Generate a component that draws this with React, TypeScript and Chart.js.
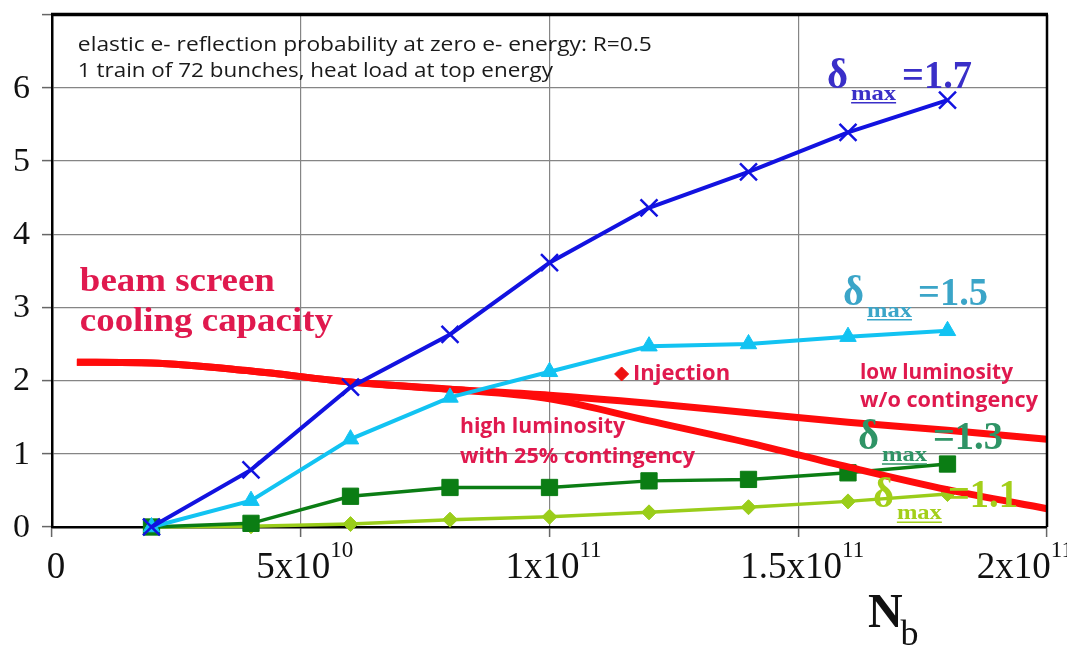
import React, { useEffect, useRef } from 'react';
import { Chart, registerables } from 'chart.js';

Chart.register(...registerables);

// ---- data ----
const bunchIntensity = [2e10, 4e10, 6e10, 8e10, 1e11, 1.2e11, 1.4e11, 1.6e11, 1.8e11];
const heatLoadDelta17 = [0, 0.78, 1.91, 2.63, 3.61, 4.36, 4.85, 5.39, 5.83];
const heatLoadDelta15 = [0, 0.36, 1.2, 1.77, 2.12, 2.47, 2.5, 2.6, 2.68];
const heatLoadDelta13 = [0, 0.05, 0.42, 0.54, 0.54, 0.63, 0.65, 0.74, 0.86];
const heatLoadDelta11 = [0, 0.01, 0.04, 0.1, 0.14, 0.2, 0.27, 0.35, 0.45];

const coolingIntensity = [5e9, 2e10, 4e10, 6e10, 8e10, 1e11, 1.2e11, 1.4e11, 1.6e11, 1.8e11, 2e11];
const coolingLowLumi = [2.25, 2.24, 2.13, 1.98, 1.88, 1.8, 1.69, 1.56, 1.43, 1.32, 1.2];
const coolingHighLumi = [2.25, 2.24, 2.13, 1.98, 1.88, 1.75, 1.45, 1.15, 0.82, 0.51, 0.25];

const injectionIntensity = [1.145e11];
const injectionHeatLoad = [2.09];

const xTickValues = [0, 5e10, 1e11, 1.5e11, 2e11];
const xTickMain = ['0', '5x10', '1x10', '1.5x10', '2x10'];
const xTickSup = ['', '10', '11', '11', '11'];
const yTickValues = [0, 1, 2, 3, 4, 5, 6];
const yTickLabels = ['0', '1', '2', '3', '4', '5', '6'];

const deltaValues = ['=1.7', '=1.5', '=1.3', '=1.1'];

// ---- annotation layout (text only) ----
const CRIMSON = '#e0194e';
const notes = [
  { text: 'elastic e- reflection probability at zero e- energy: R=0.5', x: 5.2e9, y: 6.5, w: 574, font: '20px "Open Sans"', color: '#1a1a1a' },
  { text: '1 train of 72 bunches, heat load at top energy', x: 5.2e9, y: 6.15, w: 475, font: '20px "Open Sans"', color: '#1a1a1a' },
  { text: 'beam screen', x: 5.6e9, y: 3.22, w: 195, font: 'bold 34px "Liberation Serif"', color: CRIMSON },
  { text: 'cooling capacity', x: 5.6e9, y: 2.68, w: 253, font: 'bold 34px "Liberation Serif"', color: CRIMSON },
  { text: 'Injection', x: 116.8e9, y: 2.01, w: 97, font: 'bold 22px "Open Sans"', color: CRIMSON },
  { text: 'high luminosity', x: 82e9, y: 1.28, w: 165, font: 'bold 22px "Open Sans"', color: CRIMSON },
  { text: 'with 25% contingency', x: 82e9, y: 0.877, w: 235, font: 'bold 22px "Open Sans"', color: CRIMSON },
  { text: 'low luminosity', x: 162.4e9, y: 2.02, w: 153, font: 'bold 22px "Open Sans"', color: CRIMSON },
  { text: 'w/o contingency', x: 162.4e9, y: 1.645, w: 178, font: 'bold 22px "Open Sans"', color: CRIMSON },
];
const deltaAnchors = [
  { x: 155.8e9, y: 6.0, color: '#3a2fc8' },
  { x: 159.0e9, y: 3.035, color: '#3ba5c8' },
  { x: 162.0e9, y: 1.066, color: '#2f9466' },
  { x: 165.0e9, y: 0.27, color: '#a3cf1a' },
];

function fitText(ctx: CanvasRenderingContext2D, text: string, x: number, y: number, width: number, font: string, color: string) {
  ctx.save();
  ctx.font = font;
  ctx.fillStyle = color;
  ctx.textAlign = 'left';
  ctx.textBaseline = 'alphabetic';
  const m = ctx.measureText(text).width;
  ctx.translate(x, y);
  ctx.scale(width / m, 1);
  ctx.fillText(text, 0, 0);
  ctx.restore();
}

const overlayPlugin = {
  id: 'overlay',
  afterDatasetsDraw(chart: any) {
    const ctx: CanvasRenderingContext2D = chart.ctx;
    const xs = chart.scales.x;
    const ys = chart.scales.y;
    const { left, right, top, bottom } = chart.chartArea;

    // frame
    ctx.save();
    ctx.strokeStyle = '#000';
    ctx.lineWidth = 3.5;
    ctx.beginPath();
    ctx.moveTo(left - 1, top);
    ctx.lineTo(right + 1, top);
    ctx.stroke();
    ctx.lineWidth = 2.5;
    ctx.beginPath();
    ctx.moveTo(right, top);
    ctx.lineTo(right, bottom);
    ctx.stroke();
    ctx.restore();

    // notes
    notes.forEach((n) => fitText(ctx, n.text, xs.getPixelForValue(n.x), ys.getPixelForValue(n.y), n.w, n.font, n.color));

    // delta labels
    deltaAnchors.forEach((d, i) => {
      const px = xs.getPixelForValue(d.x);
      const py = ys.getPixelForValue(d.y);
      fitText(ctx, '\u03b4', px, py, 21, 'bold 42px "Liberation Serif"', d.color);
      fitText(ctx, 'max', px + 24, py + 12, 45, 'bold 22px "Liberation Serif"', d.color);
      ctx.save();
      ctx.strokeStyle = d.color;
      ctx.lineWidth = 1.5;
      ctx.beginPath();
      ctx.moveTo(px + 24, py + 15);
      ctx.lineTo(px + 69, py + 15);
      ctx.stroke();
      ctx.restore();
      fitText(ctx, deltaValues[i], px + 75, py, 70, 'bold 40px "Liberation Serif"', d.color);
    });

    // y tick labels
    ctx.save();
    ctx.fillStyle = '#111';
    ctx.font = '34px "Liberation Serif"';
    ctx.textAlign = 'right';
    ctx.textBaseline = 'middle';
    yTickValues.forEach((v, i) => {
      ctx.fillText(yTickLabels[i], left - 22, ys.getPixelForValue(v) + 1);
    });
    ctx.restore();

    // x tick labels with superscripts
    ctx.save();
    ctx.fillStyle = '#111';
    ctx.textBaseline = 'alphabetic';
    ctx.textAlign = 'left';
    const mainFont = '37px "Liberation Serif"';
    const supFont = '23px "Liberation Serif"';
    xTickValues.forEach((v, i) => {
      ctx.font = mainFont;
      const mw = ctx.measureText(xTickMain[i]).width;
      ctx.font = supFont;
      const sw = xTickSup[i] ? ctx.measureText(xTickSup[i]).width : 0;
      const total = mw + sw;
      let x0 = xs.getPixelForValue(v) - total / 2 + (i === 0 ? 4 : 4);
      const maxRight = chart.width + 6;
      if (x0 + total > maxRight) x0 = maxRight - total;
      ctx.font = mainFont;
      ctx.fillText(xTickMain[i], x0, bottom + 51);
      if (xTickSup[i]) {
        ctx.font = supFont;
        ctx.fillText(xTickSup[i], x0 + mw, bottom + 30);
      }
    });
    ctx.restore();

    // axis title N_b
    ctx.save();
    ctx.fillStyle = '#111';
    ctx.textAlign = 'left';
    ctx.textBaseline = 'alphabetic';
    const nx = xs.getPixelForValue(164e9);
    ctx.font = 'bold 48px "Liberation Serif"';
    ctx.fillText('N', nx, bottom + 100);
    const nw = ctx.measureText('N').width;
    ctx.font = '36px "Liberation Serif"';
    ctx.fillText('b', nx + nw - 2, bottom + 118);
    ctx.restore();
  },
};

function toPoints(xv: number[], yv: number[]) {
  return xv.map((x, i) => ({ x, y: yv[i] }));
}

export default function App() {
  const canvasRef = useRef<HTMLCanvasElement | null>(null);

  useEffect(() => {
    document.body.style.margin = '0';
    const canvas = canvasRef.current;
    if (!canvas) return;
    const gridColor = '#858585';
    const chart = new Chart(canvas, {
      type: 'line',
      data: {
        datasets: [
          {
            label: 'delta 1.7',
            data: toPoints(bunchIntensity, heatLoadDelta17),
            borderColor: '#1212e0',
            borderWidth: 4,
            pointStyle: 'crossRot',
            pointRadius: 12,
            pointBorderWidth: 2.5,
            pointBorderColor: '#1212e0',
            pointBackgroundColor: '#1212e0',
            tension: 0,
            clip: false,
            order: 1,
          },
          {
            label: 'delta 1.5',
            data: toPoints(bunchIntensity, heatLoadDelta15),
            borderColor: '#12c3f2',
            borderWidth: 4,
            pointStyle: 'triangle',
            pointRadius: 9.5,
            pointBorderWidth: 1,
            pointBorderColor: '#12c3f2',
            pointBackgroundColor: '#12c3f2',
            tension: 0,
            clip: false,
            order: 2,
          },
          {
            label: 'injection',
            data: toPoints(injectionIntensity, injectionHeatLoad),
            showLine: false,
            pointStyle: 'rectRot',
            pointRadius: 7,
            pointBorderWidth: 1,
            pointBorderColor: '#ee1111',
            pointBackgroundColor: '#ee1111',
            clip: false,
            order: 3,
          },
          {
            label: 'cooling low luminosity',
            data: toPoints(coolingIntensity, coolingLowLumi),
            borderColor: '#ff0b0b',
            borderWidth: 7,
            pointRadius: 0,
            cubicInterpolationMode: 'monotone',
            borderCapStyle: 'butt',
            clip: false,
            order: 4,
          },
          {
            label: 'cooling high luminosity',
            data: toPoints(coolingIntensity, coolingHighLumi),
            borderColor: '#ff0b0b',
            borderWidth: 7,
            pointRadius: 0,
            cubicInterpolationMode: 'monotone',
            borderCapStyle: 'butt',
            clip: false,
            order: 5,
          },
          {
            label: 'delta 1.3',
            data: toPoints(bunchIntensity, heatLoadDelta13),
            borderColor: '#0b7d14',
            borderWidth: 3.5,
            pointStyle: 'rect',
            pointRadius: 11.5,
            pointBorderWidth: 1,
            pointBorderColor: '#0b7d14',
            pointBackgroundColor: '#0b7d14',
            tension: 0,
            clip: false,
            order: 6,
          },
          {
            label: 'delta 1.1',
            data: toPoints(bunchIntensity, heatLoadDelta11),
            borderColor: '#9acd1a',
            borderWidth: 3.5,
            pointStyle: 'rectRot',
            pointRadius: 7.5,
            pointBorderWidth: 1,
            pointBorderColor: '#9acd1a',
            pointBackgroundColor: '#9acd1a',
            tension: 0,
            clip: false,
            order: 7,
          },
        ],
      },
      options: {
        animation: false,
        responsive: false,
        maintainAspectRatio: false,
        devicePixelRatio: 1,
        events: [],
        layout: { padding: { top: 8, right: 20, left: 0, bottom: 0 } },
        plugins: {
          legend: { display: false },
          tooltip: { enabled: false },
          title: { display: false },
        },
        scales: {
          x: {
            type: 'linear',
            min: 0,
            max: 2e11,
            afterBuildTicks: (s: any) => {
              s.ticks = xTickValues.map((v) => ({ value: v }));
            },
            ticks: { display: false },
            grid: { color: gridColor, lineWidth: 1.2, tickLength: 10, drawTicks: true, tickColor: '#666', tickWidth: 1.5 },
            border: { display: true, color: '#000', width: 2.5 },
            afterFit: (s: any) => {
              s.height = 124;
            },
          },
          y: {
            type: 'linear',
            min: 0,
            max: 7,
            afterBuildTicks: (s: any) => {
              s.ticks = [0, 1, 2, 3, 4, 5, 6, 7].map((v) => ({ value: v }));
            },
            ticks: { display: false },
            grid: { color: gridColor, lineWidth: 1.2, tickLength: 10, drawTicks: true, tickColor: '#666', tickWidth: 1.5 },
            border: { display: true, color: '#000', width: 2.5 },
            afterFit: (s: any) => {
              s.width = 52;
            },
          },
        },
      } as any,
      plugins: [overlayPlugin],
    });
    return () => chart.destroy();
  }, []);

  return (
    <div style={{ position: 'absolute', left: 0, top: 0, width: 1067, height: 651, background: '#fff' }}>
      <canvas ref={canvasRef} width={1067} height={651} style={{ display: 'block' }} />
    </div>
  );
}
